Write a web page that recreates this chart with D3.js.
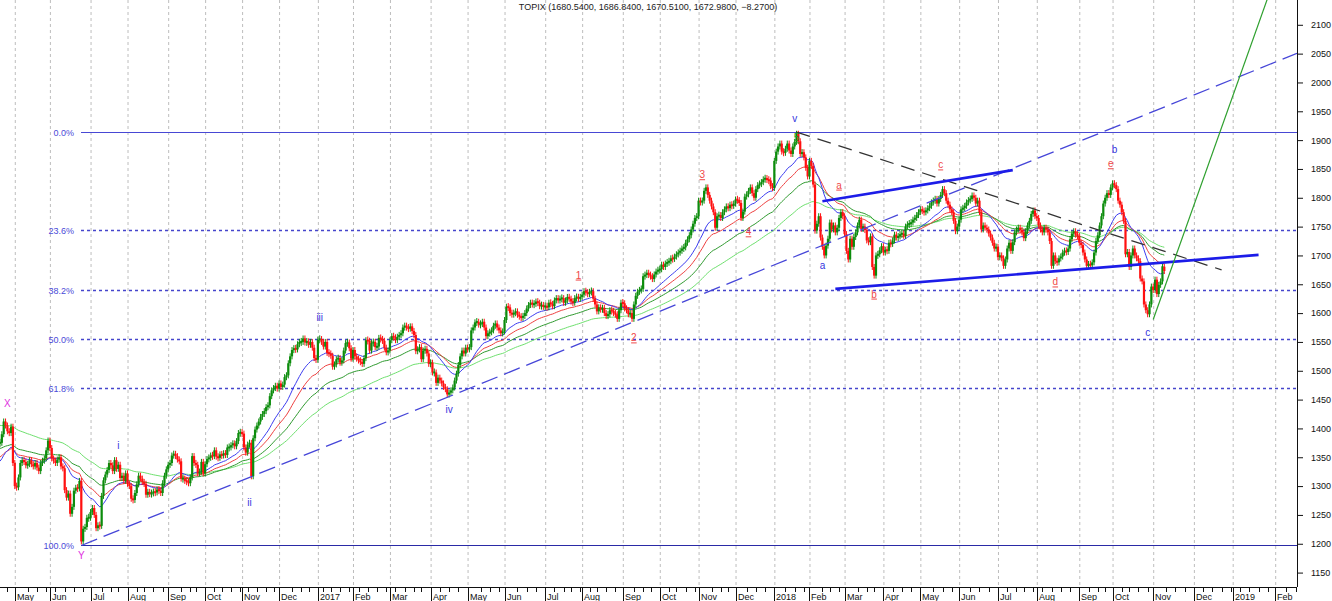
<!DOCTYPE html>
<html><head><meta charset="utf-8">
<script src="https://cdn.jsdelivr.net/npm/d3@7"></script>
<style>
body{margin:0;background:#fff}
svg{display:block}
text{font-family:"Liberation Sans",Arial,sans-serif}
</style>
</head><body>
<svg id="chart" width="1332" height="601"></svg>
<script>
// ---------------- DATA ----------------
const seriesName = "TOPIX";
const lastBar = [1680.54, 1686.84, 1670.51, 1672.98, -8.27]; // open, high, low, close, change
const startDate = "2016-04-19";
const lastDataDate = "2018-11-09";
const endDate = "2019-02-22";
const holidays = [
  "2016-04-29","2016-05-03","2016-05-04","2016-05-05","2016-07-18","2016-08-11","2016-09-19","2016-09-22",
  "2016-10-10","2016-11-03","2016-11-23","2016-12-23",
  "2017-01-02","2017-01-03","2017-01-09","2017-03-20","2017-05-03","2017-05-04","2017-05-05","2017-07-17",
  "2017-08-11","2017-09-18","2017-10-09","2017-11-03","2017-11-23",
  "2018-01-01","2018-01-02","2018-01-03","2018-01-08","2018-02-12","2018-03-21","2018-04-30","2018-05-03",
  "2018-05-04","2018-07-16","2018-09-17","2018-09-24","2018-10-08"
];
// daily closes, Apr 19 2016 -> Dec 30 2016
const closes2016 = [
  1375,1390,1412,1405,1395,1392,1403,1340,
  1300,1298,1315,1340,1345,1342,1336,1338,1345,1338,1334,1340,1332,1326,1340,1344,1348,1362,1379,
  1366,1348,1344,1340,1346,1350,1334,1331,1293,1280,1287,1252,1264,1292,1297,1296,1309,1204,1226,1229,1245,1245,
  1255,1262,1250,1227,1232,1231,1283,1310,1320,1328,1340,1336,1326,1345,1330,1337,1314,1318,1309,1322,
  1304,1300,1278,1276,1288,1303,1318,1313,1307,1304,1285,1290,1286,1288,1290,1289,1294,1292,1288,1305,1318,1329,
  1337,1340,1353,1356,1352,1346,1343,1313,1313,1309,1308,1305,1315,1352,1340,1337,1322,1325,1342,1322,
  1338,1347,1349,1353,1352,1362,1351,1349,1355,1353,1357,1354,1367,1367,1371,1374,1369,1378,1392,1393,
  1391,1367,1358,1372,1375,1317,1383,1398,1405,1412,1420,1425,1430,1437,1440,1456,1466,1470,1474,1469,
  1478,1472,1476,1489,1492,1513,1525,1536,1539,1537,1546,1550,1550,1556,1549,1551,1545,1550,1540,1522,1519
];
const closes2017 = [
  1554,1555,1550,1542,1550,1531,1530,1526,1507,1511,1520,1522,1514,1518,1535,1548,1549,1539,1521,
  1536,1525,1521,1518,1515,1512,1522,1553,1552,1535,1548,1550,1541,1542,1557,1555,1552,1540,1532,1535,
  1553,1560,1558,1553,1559,1562,1565,1575,1578,1575,1573,1577,1569,1562,1534,1537,1541,1520,1535,1538,1530,1512,
  1514,1497,1497,1479,1488,1483,1478,1472,1468,1459,1462,1466,1471,1483,1495,1510,1525,1535,1530,1540,
  1537,1541,1570,1575,1584,1585,1580,1581,1585,1575,1560,1565,1567,1570,1578,1582,1575,1570,1565,1568,
  1588,1611,1610,1600,1598,1600,1603,1597,1594,1592,1595,1600,1608,1614,1618,1615,1616,1620,1618,1612,1614,1611,
  1612,1610,1618,1616,1612,1622,1626,1622,1625,1626,1618,1622,1628,1625,1620,1618,1626,1628,1625,1628,
  1632,1638,1636,1633,1637,1638,1625,1615,1603,1610,1606,1609,1600,1595,1598,1605,1604,1600,1598,1590,1605,1618,
  1617,1608,1605,1598,1600,1590,1615,1630,1637,1640,1642,1664,1666,1670,1666,1664,1659,1667,1672,1675,
  1676,1684,1680,1686,1688,1690,1695,1694,1698,1702,1705,1708,1712,1714,1722,1728,1735,1745,1755,1765,1768,
  1795,1792,1795,1812,1818,1805,1795,1785,1775,1748,1768,1770,1765,1775,1780,1785,1782,1788,1786,1790,
  1797,1796,1791,1765,1776,1802,1806,1812,1818,1808,1800,1815,1822,1824,1827,1832,1834,1831,1830,1820,1817
];
const closes2018 = [
  1864,1880,1889,1894,1880,1878,1885,1894,1882,1876,1889,1897,1911,1898,1876,1879,1870,1852,1837,
  1864,1855,1823,1743,1755,1768,1731,1715,1700,1717,1729,1757,1745,1752,1740,1748,1765,1775,1768,
  1737,1708,1693,1729,1715,1732,1740,1752,1762,1746,1750,1744,1726,1723,1733,1680,1665,1700,1702,1709,1716,
  1705,1710,1708,1722,1720,1726,1736,1731,1733,1737,1738,1734,1750,1754,1755,1757,1762,1765,1770,1775,
  1780,1777,1775,1778,1782,1786,1792,1795,1798,1790,1798,1805,1815,1808,1795,1788,1780,1775,1760,1742,1750,
  1762,1780,1782,1786,1792,1796,1798,1804,1800,1790,1795,1775,1745,1752,1748,1745,1738,1731,1722,1712,1715,
  1697,1700,1695,1682,1693,1712,1722,1708,1723,1740,1745,1748,1744,1740,1730,1742,1752,1760,1772,1778,1768,
  1765,1752,1745,1740,1748,1745,1740,1725,1682,1700,1690,1688,1695,1698,1705,1708,1706,1712,1728,1738,1742,1736,1734,
  1722,1718,1705,1693,1682,1685,1683,1688,1705,1725,1735,1752,1768,1790,1800,1808,1805,1818,
  1825,1822,1815,1795,1788,1775,1760,1702,1706,1680,1700,1712,1700,1695,1690,1660,1655,1615,1605,1598,1615,1646,
  1640,1658,1633,1649,1655,1681.25,1672.98
];
// moving averages (exponential), with their values at the left edge
const maPeriods = [21, 34, 55, 89];
const maSeeds = [1340, 1349, 1365, 1406];
// Fibonacci retracement of the 2016 low -> 2018 high
const fibHigh = 1914, fibLow = 1197;
const fibLevels = [0, 0.236, 0.382, 0.5, 0.618, 1];
// wave labels: text, date, value, group
const waveLabels = [
  ["X","2016-04-25",1444,"m"],["Y","2016-06-24",1179,"m"],
  ["i","2016-07-25",1370,"b"],["ii","2016-11-08",1271,"b"],["iii","2017-01-05",1592,"b"],
  ["iv","2017-04-17",1432,"b"],["v","2018-01-22",1938,"b"],["a","2018-02-13",1682,"b"],
  ["b","2018-10-02",1883,"b"],["c","2018-10-29",1567,"b"],
  ["1","2017-07-28",1666,"r"],["2","2017-09-11",1557,"r"],["3","2017-11-06",1840,"r"],
  ["4","2017-12-12",1741,"r"],["5","2018-01-23",1904,"g"],
  ["a","2018-02-26",1822,"r"],["b","2018-03-26",1633,"r"],["c","2018-05-18",1857,"r"],
  ["d","2018-08-15",1654,"r"],["e","2018-09-28",1859,"r"]
];
// trend lines: [from date, from value, to date, to value, extend, style]
const trendLines = [
  ["2016-06-24",1197,"2017-09-11",1585,true,"blueDash"],
  ["2018-01-23",1914,"2018-12-24",1675,false,"blackDash"],
  ["2018-02-13",1794,"2018-07-12",1848,false,"blueThick"],
  ["2018-02-22",1642,"2019-01-21",1701,false,"blueThick"],
  ["2018-11-01",1589,"2018-12-04",1796,true,"green"]
];
const yTicks = d3.range(1150, 2101, 50);

// ---------------- STYLES ----------------
const W = 1297, H = 587;
const maColors = ["#3c3cf0", "#ee4040", "#2f9a2f", "#6ee06e"];
const labelColors = {m:"#e030e0", b:"#3434e0", r:"#f04848", g:"#22a022"};
const lineStyles = {
  blueDash:{stroke:"#4646d8", w:1.3, dash:"17,7"},
  blackDash:{stroke:"#333", w:1.3, dash:"14,8"},
  blueThick:{stroke:"#1c1ce8", w:2.6, dash:null},
  green:{stroke:"#2ea02e", w:1.2, dash:null}
};

// ---------------- CALENDAR ----------------
const parse = d3.utcParse("%Y-%m-%d"), fmt = d3.utcFormat("%Y-%m-%d");
const hol = new Set(holidays);
const days = [];
for (let d = parse(startDate); d <= parse(endDate); d = d3.utcDay.offset(d, 1)) {
  const wd = d.getUTCDay();
  if (wd === 0 || wd === 6) continue;
  const s = fmt(d);
  if (s <= lastDataDate && hol.has(s)) continue;
  days.push(d);
}
const idxOf = new Map(days.map((d, i) => [fmt(d), i]));
const closes = closes2016.concat(closes2017, closes2018);

const x = d3.scaleLinear().domain([0, 701.8]).range([0, W]);
const y = d3.scaleLinear().domain([1125, 2143]).range([H, 0]);
const xd = s => x(idxOf.get(s));

const svg = d3.select("#chart");
svg.append("defs").append("clipPath").attr("id","clip")
  .append("rect").attr("x",0).attr("y",0).attr("width",W).attr("height",H);

// month starts and week starts
const monthIdx = [], weekIdx = [];
days.forEach((d, i) => {
  if (i === 0) return;
  const p = days[i-1];
  if (d.getUTCMonth() !== p.getUTCMonth()) monthIdx.push(i);
  else if (d.getUTCDay() < p.getUTCDay() || (d - p) > 3*864e5) weekIdx.push(i);
});

// grid
const grid = svg.append("g");
grid.selectAll("line").data(monthIdx).join("line")
  .attr("x1", i => x(i)+0.5).attr("x2", i => x(i)+0.5).attr("y1", 0).attr("y2", H)
  .attr("stroke", "#bdbdbd").attr("stroke-dasharray", "3,3").attr("stroke-width", 1);

// fib lines
const fib = svg.append("g");
fibLevels.forEach(l => {
  const v = fibHigh - l*(fibHigh - fibLow);
  const yy = Math.round(y(v)) + 0.5;
  const solid = (l === 0 || l === 1);
  fib.append("line").attr("x1", 81).attr("x2", W).attr("y1", yy).attr("y2", yy)
    .attr("stroke", l === 1 ? "#2a2aa6" : (solid ? "#4848d4" : "#4646cc"))
    .attr("stroke-width", solid ? 1.2 : 1.5)
    .attr("stroke-dasharray", solid ? null : "3,3");
  fib.append("text").attr("x", 74).attr("y", yy).attr("dy", "0.35em")
    .attr("text-anchor", "end").attr("font-size", 9).attr("fill", "#4a4ad8")
    .text(d3.format(".1f")(l*100) + "%");
});

const plot = svg.append("g").attr("clip-path", "url(#clip)");

// moving averages
const emas = maPeriods.map((p, k) => {
  const a = 2/(p+1); let e = maSeeds[k];
  return closes.map(c => (e = e + a*(c - e)));
});
const line = d3.line().x((d, i) => x(i)).y(d => y(d));
[3,2,1,0].forEach(k => {
  plot.append("path").attr("d", line(emas[k])).attr("fill","none")
    .attr("stroke", maColors[k]).attr("stroke-width", 1);
});

// price bars (previous close -> close)
const bars = plot.append("g");
closes.forEach((c, i) => {
  const o = i === closes.length-1 ? lastBar[0] : (i > 0 ? closes[i-1] : c);
  const up = c >= o;
  const col = up ? "#0c8c0c" : "#ff1010";
  let y1 = y(Math.max(o, c)), y2 = y(Math.min(o, c));
  if (y2 - y1 < 2) { const m = (y1+y2)/2; y1 = m-1; y2 = m+1; }
  const xi = x(i);
  bars.append("line").attr("x1", xi).attr("x2", xi).attr("y1", y1-3).attr("y2", y2+3)
    .attr("stroke", col).attr("stroke-width", 1);
  bars.append("rect").attr("x", xi-1.1).attr("width", 2.2).attr("y", y1).attr("height", y2-y1)
    .attr("fill", col);
});

// trend lines
trendLines.forEach(([d0, v0, d1, v1, ext, st]) => {
  const i0 = idxOf.get(d0), i1 = idxOf.get(d1);
  let i2 = i1, v2 = v1;
  if (ext) { i2 = 701.8; v2 = v0 + (v1 - v0)*(i2 - i0)/(i1 - i0); }
  const s = lineStyles[st];
  plot.append("line").attr("x1", x(i0)).attr("y1", y(v0)).attr("x2", x(i2)).attr("y2", y(v2))
    .attr("stroke", s.stroke).attr("stroke-width", s.w).attr("stroke-dasharray", s.dash);
});

// wave labels
svg.append("g").selectAll("text").data(waveLabels).join("text")
  .attr("x", d => xd(d[1])).attr("y", d => y(d[2])).attr("dy", "0.35em")
  .attr("text-anchor", "middle").attr("font-size", 10)
  .attr("fill", d => labelColors[d[3]])
  .attr("text-decoration", d => (d[3] === "r" || d[3] === "g") ? "underline" : null)
  .text(d => d[0]);

// right axis
const yAxis = svg.append("g").attr("transform", `translate(${W},0)`);
yAxis.call(d3.axisRight(y).tickValues(d3.range(1130, 2141, 10)).tickSize(3).tickFormat("").tickSizeOuter(0));
yAxis.call(d3.axisRight(y).tickValues(yTicks).tickSize(6).tickPadding(8).tickFormat(d3.format("d")).tickSizeOuter(0));
yAxis.selectAll("text").attr("font-size", 9).attr("fill", "#111").attr("font-family", '"Liberation Sans",Arial,sans-serif');
yAxis.selectAll("path,line").attr("stroke", "#111");
yAxis.select(".domain").attr("d", `M0.5,0V${H}`);

// bottom axis
const xa = svg.append("g");
xa.append("line").attr("x1", 0).attr("x2", W).attr("y1", H+0.5).attr("y2", H+0.5).attr("stroke", "#111");
weekIdx.filter(i => !monthIdx.some(m => x(i) - x(m) >= 0 && x(i) - x(m) < 5)).forEach(i => {
  xa.append("line").attr("x1", Math.round(x(i))+0.5).attr("x2", Math.round(x(i))+0.5)
    .attr("y1", H).attr("y2", H+5).attr("stroke", "#111");
});
monthIdx.forEach(i => {
  const d = days[i], xx = Math.round(x(i))+0.5;
  xa.append("line").attr("x1", xx).attr("x2", xx).attr("y1", H).attr("y2", 601).attr("stroke", "#111");
  xa.append("text").attr("x", xx+1.5).attr("y", 600).attr("font-size", 9).attr("fill", "#111")
    .text(d.getUTCMonth() === 0 ? d3.utcFormat("%Y")(d) : d3.utcFormat("%b")(d));
});

// title
const f4 = d3.format(".4f");
svg.append("text").attr("x", 648).attr("y", 10).attr("text-anchor", "middle")
  .attr("font-size", 9).attr("fill", "#222")
  .text(`${seriesName} (${lastBar.map(f4).join(", ")})`);

if (closes.length !== idxOf.get(lastDataDate) + 1)
  throw new Error("count mismatch " + closes.length + " vs " + (idxOf.get(lastDataDate) + 1));
</script>
</body></html>
